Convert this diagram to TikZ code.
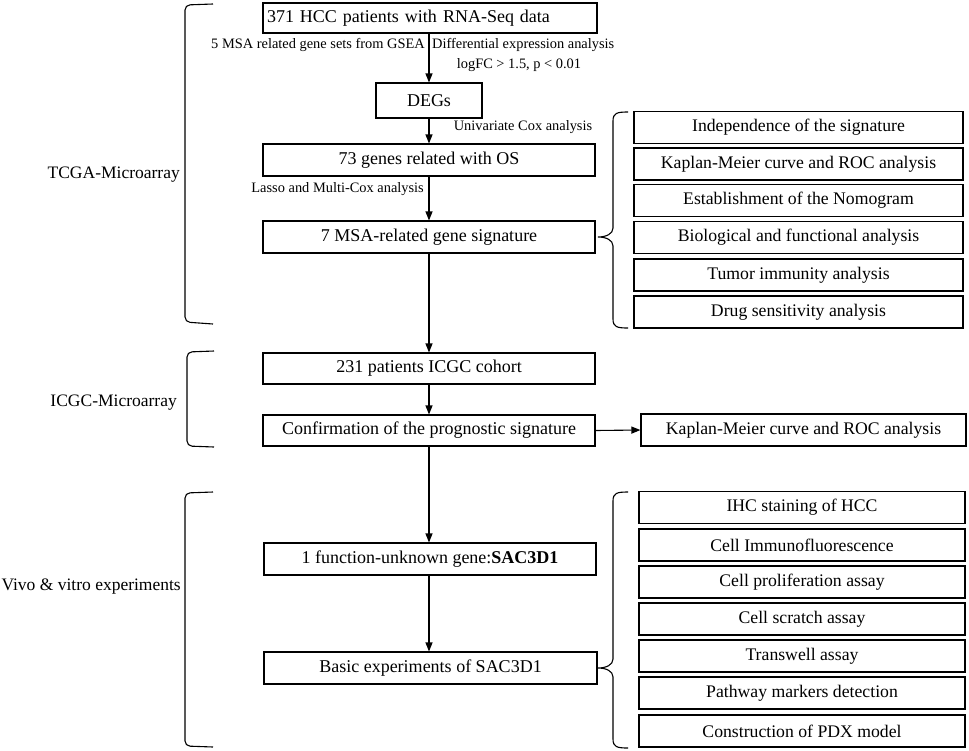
\documentclass[tikz,border=0pt]{standalone}
\usepackage{fontspec}
\setmainfont{Liberation Serif}
\usetikzlibrary{arrows.meta}
\begin{document}
\begin{tikzpicture}[x=1pt,y=-1pt,
 box/.style={draw,line width=1.1pt,inner sep=0pt,minimum height=32pt,font=\fontsize{18}{21}\selectfont},
 mbox/.style={box,minimum width=332pt},
 sbox/.style={box,font=\fontsize{17.7}{20}\selectfont},
 rbox/.style={sbox,minimum width=329pt},
 qbox/.style={sbox,minimum width=326pt},
 lbl/.style={font=\fontsize{14.4}{16}\selectfont,inner sep=0pt},
 side/.style={font=\fontsize{17.5}{20}\selectfont,inner sep=0pt,anchor=east},
 arr/.style={-{Triangle[length=9pt,width=7pt]},line width=1.1pt},
 brk/.style={line width=1.1pt}
]
\useasboundingbox (0,0) rectangle (969,750);

% main column
\node[box,minimum width=334pt,minimum height=30pt,text width=326pt,align=left] (n1) at (430,18) {371 HCC patients with RNA-Seq data};
\node[box,minimum width=106pt,minimum height=35pt] (degs) at (429,100.5) {DEGs};
\node[mbox] (n73) at (429,160) {73 genes related with OS};
\node[mbox] (n7) at (429,237) {7 MSA-related gene signature};
\node[mbox,minimum height=31pt] (n231) at (429,368.5) {231 patients ICGC cohort};
\node[mbox,minimum height=31pt] (conf) at (429,430.5) {Confirmation of the prognostic signature};
\node[sbox,minimum width=325pt] (km) at (803.5,430) {Kaplan-Meier curve and ROC analysis};
\node[mbox] (gene) at (430,559) {1 function-unknown gene:\textbf{SAC3D1}};
\node[mbox,minimum width=333pt] (basic) at (430.5,668) {Basic experiments of SAC3D1};

% arrows
\draw[arr] (n1.south -| degs.north) -- (degs.north);
\draw[arr] (degs) -- (degs |- n73.north);
\draw[arr] (degs |- n73.south) -- (degs |- n7.north);
\draw[arr] (degs |- n7.south) -- (degs |- n231.north);
\draw[arr] (degs |- n231.south) -- (degs |- conf.north);
\draw[arr] (degs |- conf.south) -- (degs |- gene.north);
\draw[arr] (degs |- gene.south) -- (degs |- basic.north);
\draw[arr] (conf.east) -- (km.west);

% edge labels
\node[lbl,anchor=east] (l1) at (425,45) {5 MSA related gene sets from GSEA};
\node[lbl,anchor=west] (l2) at (432,45) {Differential expression analysis};
\node[lbl] (l3) at (519,65) {logFC > 1.5, p < 0.01};
\node[lbl] (l4) at (523,127) {Univariate Cox analysis};
\node[lbl,anchor=east] (l5) at (424,189) {Lasso and Multi-Cox analysis};

% right boxes (top)
\node[rbox] (r1) at (798.5,127.5) {Independence of the signature};
\node[rbox] (r2) at (798.5,164) {Kaplan-Meier curve and ROC analysis};
\node[rbox] (r3) at (798.5,200.5) {Establishment of the Nomogram};
\node[rbox] (r4) at (798.5,237.5) {Biological and functional analysis};
\node[rbox] (r5) at (798.5,275) {Tumor immunity analysis};
\node[rbox] (r6) at (798.5,312) {Drug sensitivity analysis};

% right boxes (bottom)
\node[qbox] (q1) at (802,507.5) {IHC staining of HCC};
\node[qbox] (q2) at (802,545) {Cell Immunofluorescence};
\node[qbox] (q3) at (802,582) {Cell proliferation assay};
\node[qbox] (q4) at (802,619) {Cell scratch assay};
\node[qbox] (q5) at (802,656) {Transwell assay};
\node[qbox] (q6) at (802,693) {Pathway markers detection};
\node[qbox] (q7) at (802,731) {Construction of PDX model};

% side labels
\node[side] (s1) at (180,175) {TCGA-Microarray};
\node[side] (s2) at (177,403) {ICGC-Microarray};
\node[side] (s3) at (181,587) {Vivo \& vitro experiments};

% left brackets
\draw[brk,rounded corners=5pt] (213,4) -- (185,5) -- (185,322) -- (213,324);
\draw[brk,rounded corners=5pt] (214,351) -- (187,352) -- (187,446) -- (214,447);
\draw[brk,rounded corners=5pt] (213,492) -- (185,493) -- (185,746) -- (213,747);

% right braces
\draw[brk] (628,112) .. controls (617,112) and (613,113) .. (613,121) -- (613,228)
  .. controls (613,234) and (606,237) .. (598,237)
  .. controls (606,237) and (613,240) .. (613,246) -- (613,319)
  .. controls (613,327) and (617,328) .. (628,328);
\draw[brk] (628,492) .. controls (617,492) and (613,493) .. (613,501) -- (613,659)
  .. controls (613,665) and (606,668) .. (598,668)
  .. controls (606,668) and (613,671) .. (613,677) -- (613,739)
  .. controls (613,747) and (617,748) .. (628,748);
\end{tikzpicture}
\end{document}
